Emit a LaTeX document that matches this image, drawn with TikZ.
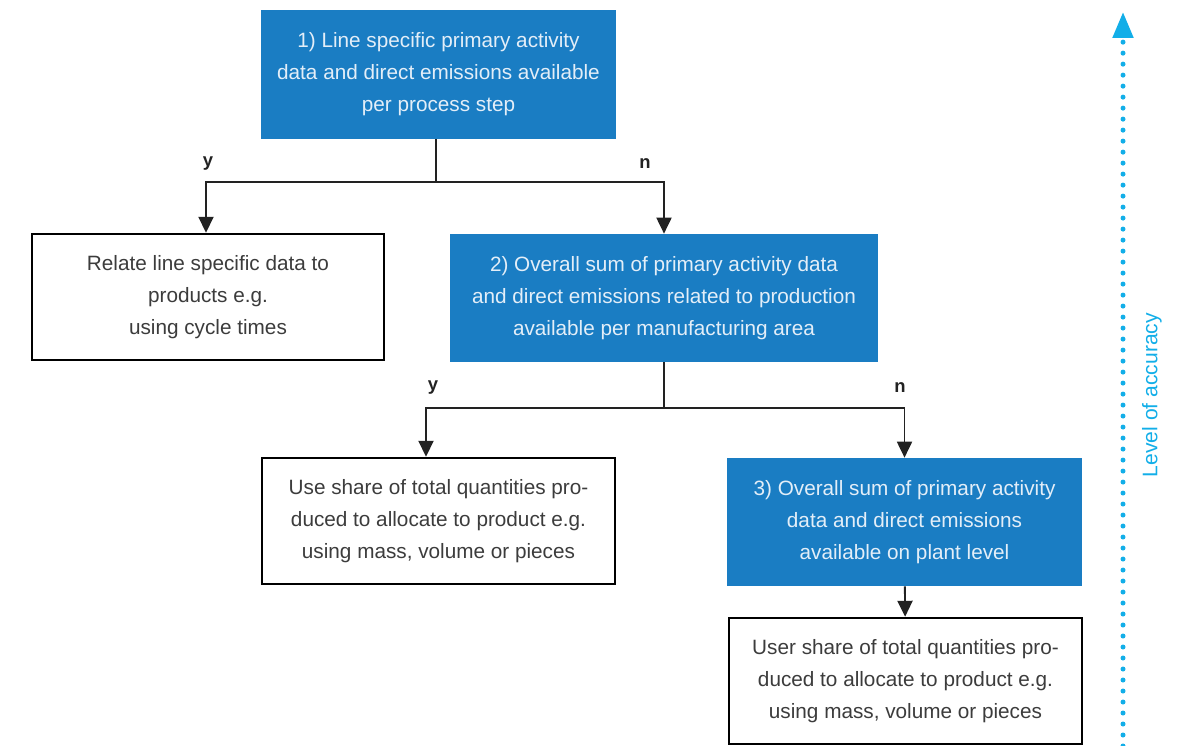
\documentclass[tikz,border=0pt]{standalone}
\usepackage{fontspec}
\setmainfont{Liberation Sans}
\usetikzlibrary{arrows.meta}

\definecolor{boxblue}{HTML}{1A7DC3}
\definecolor{boxtext}{HTML}{E3EEF8}
\definecolor{linegray}{HTML}{222222}
\definecolor{textgray}{HTML}{3C3C3C}
\definecolor{accblue}{HTML}{12AEE8}

\tikzset{
    question/.style={fill=boxblue, text=boxtext, align=center, inner sep=0pt,
        font=\fontsize{11.8}{18.2}\selectfont},
    answer/.style={draw=black, line width=1.4pt, fill=white, text=textgray, align=center,
        inner sep=0pt, font=\fontsize{11.8}{18.2}\selectfont},
    flow/.style={draw=linegray, line width=1.1pt},
    choice/.style={font=\bfseries\fontsize{10.5}{12}\selectfont, text=linegray},
}

\begin{document}
\begin{tikzpicture}[x=0.02cm, y=-0.02cm,
    >={Triangle[width=0.3cm, length=0.32cm]}]
    \useasboundingbox (0,0) rectangle (1189,746);
    % questions
    \node[question, minimum width=7.1cm, minimum height=2.58cm] (q1) at (438.5,74.5)
        {1) Line specific primary activity\\data and direct emissions available\\per process step};
    \node[question, minimum width=8.56cm, minimum height=2.56cm] (q2) at (664,298)
        {2) Overall sum of primary activity data\\and direct emissions related to production\\available per manufacturing area};
    \node[question, minimum width=7.1cm, minimum height=2.56cm] (q3) at (904.5,522)
        {3) Overall sum of primary activity\\data and direct emissions\\available on plant level};
    % answers
    \node[answer, minimum width=7.04cm, minimum height=2.52cm] (a1) at (208,297)
        {Relate line specific data to\\products e.g.\\using cycle times};
    \node[answer, minimum width=7.06cm, minimum height=2.52cm] (a2) at (438.5,521)
        {Use share of total quantities pro-\\duced to allocate to product e.g.\\using mass, volume or pieces};
    \node[answer, minimum width=7.06cm, minimum height=2.52cm] (a3) at (905.5,681)
        {User share of total quantities pro-\\duced to allocate to product e.g.\\using mass, volume or pieces};
    % branches
    \coordinate (j1) at (436,182);
    \coordinate (j2) at (664,408);
    \coordinate (y2) at (426,408);
    \draw[flow] (q1.south -| j1) -- (j1);
    \draw[flow, ->] (j1) -| (a1.north -| 206,0);
    \draw[flow, ->] (j1) -| (q2.north);
    \draw[flow] (q2) -- (j2);
    \draw[flow, ->] (j2) -- (y2) -- (y2 |- a2.north);
    \draw[flow, ->] (j2) -| (q3.north);
    \draw[flow, ->] (q3) -- (a3);
    \node[choice] (y1l) at (208,164) {y};
    \node[choice] (n1l) at (645,164) {n};
    \node[choice] (y2l) at (433,388) {y};
    \node[choice] (n2l) at (900,388) {n};
    % accuracy axis
    \coordinate (accbot) at (1123,746);
    \coordinate (acctop) at (1123,12);
    \draw[accblue, line width=0.1cm, line cap=round, dash pattern=on 0pt off 0.22cm,
        -{Triangle[width=0.4cm, length=0.52cm]}] (accbot) -- (acctop);
    \node[text=accblue, rotate=90, font=\fontsize{12}{14}\selectfont] (acc) at (1152,395)
        {Level of accuracy};
\end{tikzpicture}
\end{document}
